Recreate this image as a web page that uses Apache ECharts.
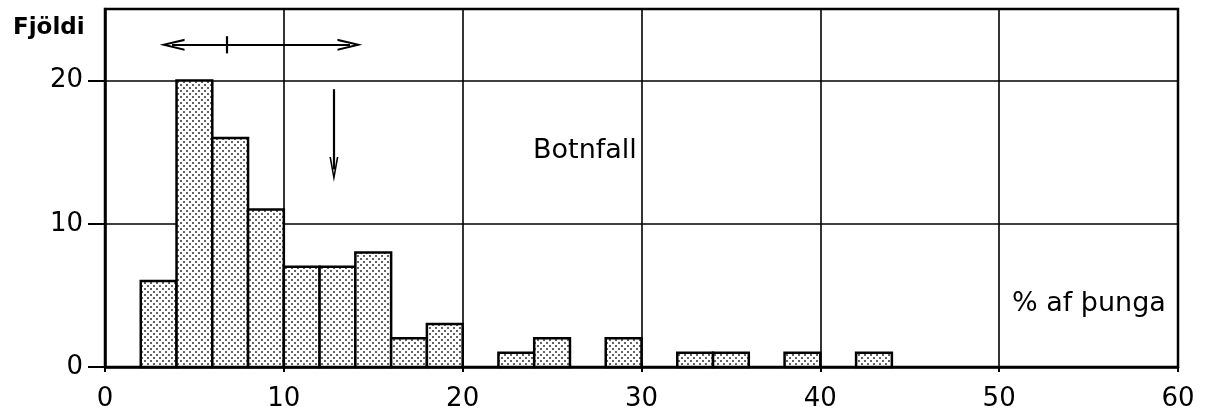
<!DOCTYPE html>
<html>
<head>
<meta charset="utf-8">
<script src="https://cdn.jsdelivr.net/npm/echarts@6/dist/echarts.min.js"></script>
<style>html,body{margin:0;padding:0;background:#fff}#c{width:1218px;height:412px}</style>
</head>
<body>
<div id="c"></div>
<script>
// Histogram bins (% af þunga), width 2
const binStarts = [2,4,6,8,10,12,14,16,18,20,22,24,26,28,30,32,34,36,38,40,42];
const counts    = [6,20,16,11,7,7,8,2,3,0,1,2,0,2,0,1,1,0,1,0,1];
const binWidth = 2;
const xTicks = [0,10,20,30,40,50,60];
const yTicks = [0,10,20];
// Annotation arrows (data coordinates of arrowhead centres)
const rangeArrow = {from:[3.75,22.5], to:[13.7,22.5]};
const rangeMark = {from:[6.8,23.1], to:[6.8,21.9]};
const downArrow = {from:[12.8,19.4], to:[12.8,13.8]};

// stipple pattern
const pc = document.createElement('canvas');
pc.width = 6; pc.height = 6;
const g = pc.getContext('2d');
g.fillStyle = '#fff'; g.fillRect(0,0,6,6);
g.fillStyle = '#222';
[[1,1],[4,4]].forEach(p=>{g.beginPath();g.arc(p[0],p[1],0.95,0,Math.PI*2);g.fill();});

const data = binStarts.map((s,i)=>[s, s+binWidth, counts[i]]).filter(d=>d[2]>0);
const FONT = 'DejaVu Sans';
const chevron = 'path://M5,0 L10,12 L8.2,12 L5,4 L1.8,12 L0,12 Z';

const chart = echarts.init(document.getElementById('c'));
chart.setOption({
  animation:false,
  backgroundColor:'#fff',
  grid:{left:105,right:40,top:9,bottom:45,show:true,borderColor:'#000',borderWidth:2.5,backgroundColor:'transparent'},
  xAxis:{type:'value',min:0,max:60,interval:10,
    axisLine:{lineStyle:{color:'#000',width:2.5}},
    axisTick:{show:true,length:5,lineStyle:{color:'#000',width:2}},
    axisLabel:{color:'#000',fontSize:26,fontFamily:FONT,margin:19,customValues:xTicks},
    splitLine:{show:true,lineStyle:{color:'#000',width:1.6}}},
  yAxis:{type:'value',min:0,max:25,interval:10,
    axisLine:{show:true,lineStyle:{color:'#000',width:2.5}},
    axisTick:{show:true,length:17,customValues:yTicks,lineStyle:{color:'#000',width:2}},
    axisLabel:{color:'#000',fontSize:26,fontFamily:FONT,margin:22,customValues:yTicks},
    splitLine:{show:true,lineStyle:{color:'#000',width:1.6}}},
  graphic:[
    {type:'text',left:13,top:17,style:{text:'Fjöldi',fontSize:23,fontWeight:'bold',fontFamily:FONT,fill:'#000'}},
    {type:'text',left:533,top:137,style:{text:'Botnfall',fontSize:27,fontFamily:FONT,fill:'#000'}},
    {type:'text',left:1012,top:290,style:{text:'% af þunga',fontSize:27,fontFamily:FONT,fill:'#000'}}
  ],
  series:[
    {type:'custom',data:data,
      renderItem:function(params,api){
        const p0 = api.coord([api.value(0),0]);
        const p1 = api.coord([api.value(1),api.value(2)]);
        return {type:'rect',shape:{x:p0[0],y:p1[1],width:p1[0]-p0[0],height:p0[1]-p1[1]},
          style:{fill:{image:pc,repeat:'repeat'},stroke:'#000',lineWidth:2.5}};
      },
      encode:{x:[0,1],y:2},z:3},
    {type:'line',data:[],silent:true,
      markLine:{silent:true,animation:false,label:{show:false},
        lineStyle:{color:'#000',width:2.2,type:'solid'},
        symbol:['none','none'],
        data:[
          [{coord:rangeArrow.from,symbol:chevron,symbolSize:[12,25]},{coord:rangeArrow.to,symbol:chevron,symbolSize:[12,25]}],
          [{coord:rangeMark.from,symbol:'none'},{coord:rangeMark.to,symbol:'none'}],
          [{coord:downArrow.from,symbol:'none'},{coord:downArrow.to,symbol:chevron,symbolSize:[9,25]}]
        ]}}
  ]
});
</script>
</body>
</html>
